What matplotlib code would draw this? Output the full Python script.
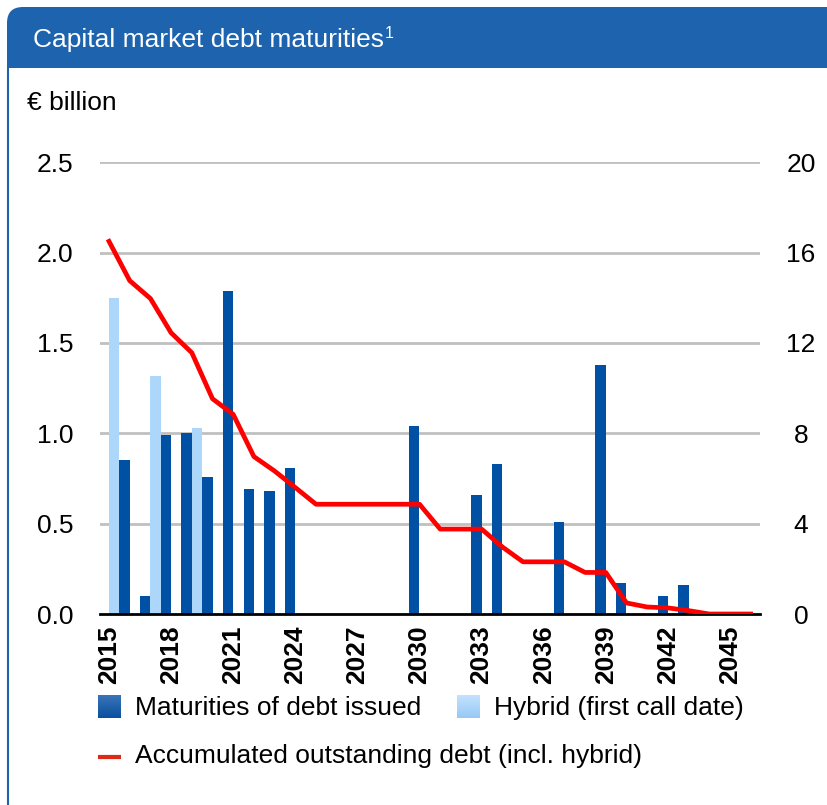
import matplotlib
matplotlib.use("Agg")
import matplotlib.pyplot as plt
import numpy as np
from matplotlib.patches import PathPatch
from matplotlib.path import Path

plt.rcParams['font.family'] = ['Liberation Sans', 'DejaVu Sans']

# ---------------- data ----------------
bar_years = list(range(2015, 2046))
debt_issued = [0.85, 0.10, 0.99, 1.00, 0.76, 1.79, 0.69, 0.68, 0.81, 0, 0, 0, 0, 0,
               1.04, 0, 0, 0.66, 0.83, 0, 0, 0.51, 0, 1.38, 0.17, 0, 0.10, 0.16, 0, 0, 0]
hybrid = [1.75, 0, 1.32, 0, 1.03] + [0] * 26

line_years = list(range(2015, 2047))
accumulated = [16.5, 14.76, 13.97, 12.45, 11.57, 9.53, 8.84, 6.97, 6.33, 5.6, 4.86,
               4.86, 4.86, 4.86, 4.86, 4.86, 3.76, 3.76, 3.76, 2.97, 2.31, 2.31, 2.31,
               1.84, 1.84, 0.49, 0.31, 0.27, 0.15, 0, 0, 0]

xtick_years = list(range(2015, 2046, 3))
left_ticks = [0.0, 0.5, 1.0, 1.5, 2.0, 2.5]
right_ticks = [0, 4, 8, 12, 16, 20]

title = "Capital market debt maturities"
unit_label = "€ billion"
legend_labels = ["Maturities of debt issued", "Hybrid (first call date)",
                 "Accumulated outstanding debt (incl. hybrid)"]

DARK = '#0050A4'
LIGHT = '#ADD6FB'
RED = '#FF0000'
HEADER = '#1E63AE'
FS = 19

W, H = 827, 805
fig = plt.figure(figsize=(W / 100, H / 100), dpi=100)

# background / frame axes in pixel coords
bg = fig.add_axes([0, 0, 1, 1], zorder=0)
bg.set_xlim(0, W)
bg.set_ylim(H, 0)
bg.axis('off')

# header with rounded top-left corner
x0, y0, y1, r = 7, 7, 68, 16
verts = [(x0, y1), (x0, y0 + r), (x0, y0), (x0 + r, y0), (W + 5, y0), (W + 5, y1), (x0, y1)]
codes = [Path.MOVETO, Path.LINETO, Path.CURVE3, Path.CURVE3, Path.LINETO, Path.LINETO, Path.CLOSEPOLY]
bg.add_patch(PathPatch(Path(verts, codes), facecolor=HEADER, edgecolor='none'))
bg.plot([x0 + 0.8, x0 + 0.8], [y1, H + 5], color=HEADER, lw=1.5)
t = bg.text(33, 40, title, color='white', fontsize=FS, va='center', ha='left')
fig.canvas.draw()
bb = t.get_window_extent()
tx_end = bb.x1 * W / fig.bbox.width
bg.text(tx_end + 1, 33, "1", color='white', fontsize=FS * 0.6, va='center', ha='left')
bg.text(27, 103, unit_label, color='black', fontsize=FS, va='center', ha='left')

# legend (manual)
def grad_square(x, y, w, h, c_top, c_bot):
    grad = np.linspace(0, 1, 50)[:, None]
    ct = np.array(matplotlib.colors.to_rgb(c_top))
    cb = np.array(matplotlib.colors.to_rgb(c_bot))
    img = ct[None, None, :] * (1 - grad[..., None]) + cb[None, None, :] * grad[..., None]
    bg.imshow(img, extent=(x, x + w, y + h, y), aspect='auto', zorder=3)

grad_square(98, 695, 23, 23, '#3A74B8', '#0A4FA0')
bg.text(135, 708, legend_labels[0], fontsize=FS, va='center', ha='left')
grad_square(457, 695, 23, 23, '#C4E2FE', '#97C9F5')
bg.text(494, 708, legend_labels[1], fontsize=FS, va='center', ha='left')
bg.plot([98, 121], [756.5, 756.5], color='#DD2A18', lw=3, solid_capstyle='butt')
bg.text(135, 756, legend_labels[2], fontsize=FS, va='center', ha='left')
bg.set_xlim(0, W)
bg.set_ylim(H, 0)

# main chart axes
L, R, T, B = 100, 760, 162.3, 614
ax = fig.add_axes([L / W, 1 - B / H, (R - L) / W, (B - T) / H], zorder=2)
ax.set_facecolor('none')
ax2 = ax.twinx()

xs = np.array(bar_years)
ax.bar(xs + 0.25, hybrid, width=0.5, color=LIGHT, zorder=3)
ax.bar(xs + 0.75, debt_issued, width=0.5, color=DARK, zorder=3)

ax.set_xlim(2014.565, 2046.45)
ax.set_ylim(0, 2.5)
ax.set_yticks(left_ticks)
ax.set_yticklabels([f"{v:.1f}" for v in left_ticks])
ax.set_xticks(xtick_years)
ax.set_xticklabels([str(y) for y in xtick_years], rotation=90, fontweight='bold')
ax.tick_params(axis='x', length=0, pad=8, labelsize=FS)
ax.tick_params(axis='y', length=0, pad=19, labelsize=FS)
for s in ['top', 'left', 'right']:
    ax.spines[s].set_visible(False)
ax.spines['bottom'].set_linewidth(2)
ax.spines['bottom'].set_color('black')
ax.spines['bottom'].set_zorder(5)
for v in left_ticks[1:]:
    ax.axhline(v, color='#C0C0C0', lw=2, zorder=1)

ax2.plot(line_years, accumulated, color=RED, lw=3.4, zorder=4, solid_joinstyle='round')
ax2.set_ylim(0, 20)
ax2.set_yticks(right_ticks)
ax2.set_yticklabels([str(v) for v in right_ticks])
ax2.tick_params(axis='y', length=0, pad=29.5, labelsize=FS)
for lbl in ax2.get_yticklabels():
    lbl.set_horizontalalignment('center')
for s in ax2.spines.values():
    s.set_visible(False)

fig.savefig("out.png", dpi=100)
